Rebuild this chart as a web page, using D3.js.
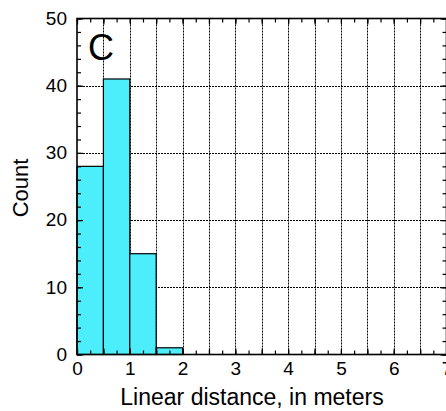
<!DOCTYPE html>
<html>
<head>
<meta charset="utf-8">
<script src="https://cdn.jsdelivr.net/npm/d3@7"></script>
<style>
  html, body { margin: 0; padding: 0; background: #fff; }
  svg { display: block; font-family: "Liberation Sans", Arial, sans-serif; }
</style>
</head>
<body>
<svg id="chart" width="446" height="411"></svg>
<script>
// histogram data
var binStarts = [0, 0.5, 1, 1.5];
var binWidth = 0.5;
var counts = [28, 41, 15, 1];
var xTickLabels = [0, 1, 2, 3, 4, 5, 6, 7];
var yTickLabels = [0, 10, 20, 30, 40, 50];
var panelLetter = "C";

var svg = d3.select("#chart"),
    plotL = 77, plotR = 446.5, plotT = 18.5, plotB = 354.5;

var x = d3.scaleLinear().domain([0, 7]).range([plotL, plotR]);
var y = d3.scaleLinear().domain([0, 50]).range([plotB, plotT]);

// dotted grid behind the bars
var gx = d3.range(1, 14).map(function (i) { return i * 0.5; });
var gy = [10, 20, 30, 40];
svg.append("g").selectAll("line").data(gx).enter().append("line")
    .attr("x1", function (d) { return Math.round(x(d)) + 0.5; })
    .attr("x2", function (d) { return Math.round(x(d)) + 0.5; })
    .attr("y1", plotT).attr("y2", plotB)
    .attr("stroke", "#000").attr("stroke-width", 1).attr("stroke-dasharray", "2,1");
svg.append("g").selectAll("line").data(gy).enter().append("line")
    .attr("y1", function (d) { return Math.round(y(d)) + 0.5; })
    .attr("y2", function (d) { return Math.round(y(d)) + 0.5; })
    .attr("x1", plotL).attr("x2", plotR)
    .attr("stroke", "#000").attr("stroke-width", 1).attr("stroke-dasharray", "2,1");

// bars
svg.append("g").selectAll("rect").data(counts).enter().append("rect")
    .attr("x", function (d, i) { return x(binStarts[i]); })
    .attr("width", function (d, i) { return x(binStarts[i] + binWidth) - x(binStarts[i]); })
    .attr("y", function (d) { return y(d); })
    .attr("height", function (d) { return y(0) - y(d); })
    .attr("fill", "#4deefb").attr("stroke", "#000").attr("stroke-width", 1.2);

// ticks pointing inward on all four sides
function ticks(axisFn, pos, values, size) {
    var g = svg.append("g").attr("transform", pos)
        .call(axisFn.tickValues(values).tickSize(-size).tickFormat(""));
    g.select(".domain").remove();
    g.selectAll("line").attr("stroke-width", 1.2);
    return g;
}
var xMinor = d3.range(0, 29).map(function (i) { return i * 0.25; });
var xMajor = d3.range(0, 15).map(function (i) { return i * 0.5; });
var yMinor = d3.range(0, 26).map(function (i) { return i * 2; });
ticks(d3.axisBottom(x), "translate(0," + plotB + ")", xMinor, 4);
ticks(d3.axisBottom(x), "translate(0," + plotB + ")", xMajor, 6);
ticks(d3.axisTop(x), "translate(0," + plotT + ")", xMinor, 4);
ticks(d3.axisTop(x), "translate(0," + plotT + ")", xMajor, 6);
ticks(d3.axisLeft(y), "translate(" + plotL + ",0)", yMinor, 4);
ticks(d3.axisLeft(y), "translate(" + plotL + ",0)", yTickLabels, 6);
ticks(d3.axisRight(y), "translate(" + plotR + ",0)", yMinor, 4);
ticks(d3.axisRight(y), "translate(" + plotR + ",0)", yTickLabels, 6);

// tick labels
var xl = svg.append("g").attr("transform", "translate(0," + plotB + ")")
    .call(d3.axisBottom(x).tickValues(xTickLabels).tickSize(0).tickFormat(d3.format("d")));
xl.select(".domain").remove();
xl.selectAll("text").attr("y", 20.5).attr("dy", null)
    .attr("font-size", 19).attr("font-family", null).attr("fill", "#000");

var yl = svg.append("g").attr("transform", "translate(" + plotL + ",0)")
    .call(d3.axisLeft(y).tickValues(yTickLabels).tickSize(0).tickFormat(d3.format("d")));
yl.select(".domain").remove();
yl.selectAll("text").attr("x", -10).attr("dy", "0.3em")
    .attr("font-size", 19).attr("font-family", null).attr("fill", "#000");

// frame
svg.append("rect")
    .attr("x", plotL).attr("y", plotT)
    .attr("width", plotR - plotL).attr("height", plotB - plotT)
    .attr("fill", "none").attr("stroke", "#000").attr("stroke-width", 1.6);

// titles
svg.append("text").attr("x", 252).attr("y", 405)
    .attr("text-anchor", "middle").attr("font-size", 23)
    .text("Linear distance, in meters");
svg.append("text").attr("transform", "translate(27.5,188) rotate(-90)")
    .attr("text-anchor", "middle").attr("font-size", 22)
    .text("Count");
svg.append("text").attr("x", 88).attr("y", 60)
    .attr("font-size", 36)
    .text(panelLetter);
</script>
</body>
</html>
